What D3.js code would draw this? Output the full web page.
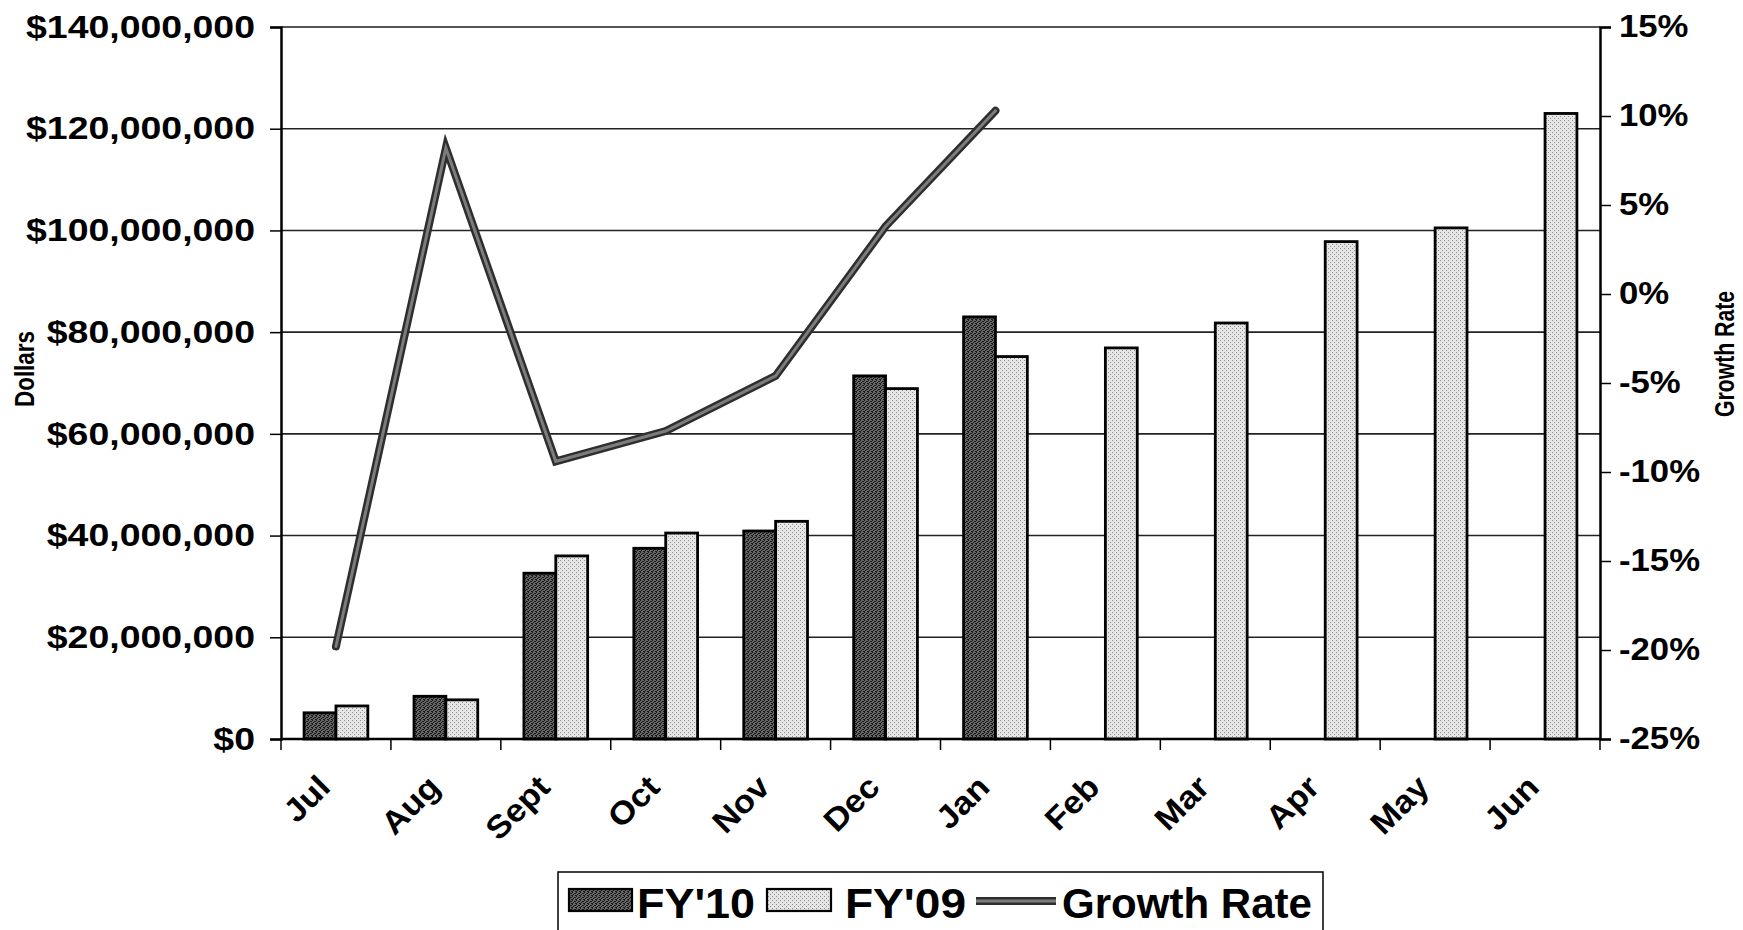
<!DOCTYPE html>
<html>
<head>
<meta charset="utf-8">
<script src="https://cdn.jsdelivr.net/npm/d3@7"></script>
<style>
  html, body { margin: 0; padding: 0; background: #fff; }
  svg { display: block; }
  text { font-family: "Liberation Sans", Arial, sans-serif; font-weight: bold; fill: #000; }
</style>
</head>
<body>
<svg id="chart" width="1743" height="930"></svg>
<script>
// ---- data ----
const months = ["Jul","Aug","Sept","Oct","Nov","Dec","Jan","Feb","Mar","Apr","May","Jun"];
const fy10 = [5.15e6, 8.4e6, 32.6e6, 37.5e6, 40.9e6, 71.4e6, 83.0e6, null, null, null, null, null];
const fy09 = [6.5e6, 7.7e6, 36.0e6, 40.5e6, 42.8e6, 68.9e6, 75.2e6, 76.9e6, 81.8e6, 97.8e6, 100.5e6, 123.0e6];
const growth = [-0.198, 0.082, -0.094, -0.077, -0.046, 0.038, 0.103, null, null, null, null, null];
const seriesNames = ["FY'10", "FY'09"];
const leftTicks = [0, 20e6, 40e6, 60e6, 80e6, 100e6, 120e6, 140e6];
const rightTicks = [-0.25, -0.20, -0.15, -0.10, -0.05, 0, 0.05, 0.10, 0.15];
const leftTitle = "Dollars";
const rightTitle = "Growth Rate";
const lineName = "Growth Rate";

// ---- layout ----
const L = 281, R = 1600, T = 27, B = 739;
const svg = d3.select("#chart");

function stretch(sel, f) {
  sel.each(function () {
    const w = this.getComputedTextLength();
    d3.select(this).attr("textLength", w * f).attr("lengthAdjust", "spacingAndGlyphs");
  });
}
function fitTo(sel, w) {
  sel.attr("textLength", w).attr("lengthAdjust", "spacingAndGlyphs");
}

// stipple patterns
const defs = svg.append("defs");
function stipple(id, base, dot, dots) {
  const p = defs.append("pattern").attr("id", id).attr("patternUnits", "userSpaceOnUse")
    .attr("width", 4).attr("height", 4);
  p.append("rect").attr("width", 4).attr("height", 4).attr("fill", base);
  dots.forEach(([x, y]) => p.append("rect").attr("x", x).attr("y", y).attr("width", 1).attr("height", 1).attr("fill", dot));
}
stipple("pDark", "#666", "#1a1a1a", [[0,0],[2,1],[1,2],[3,3],[0,3],[3,1]]);
stipple("pLight", "#e6e6e6", "#8c8c8c", [[0,0],[2,2]]);
const fills = { "FY'10": "url(#pDark)", "FY'09": "url(#pLight)" };

const x0 = d3.scaleBand().domain(months).range([L, R]).paddingInner(0.42).paddingOuter(0.21);
const x1 = d3.scaleBand().domain(seriesNames).range([0, x0.bandwidth()]);
const yL = d3.scaleLinear().domain([0, 140e6]).range([B, T]);
const yR = d3.scaleLinear().domain([-0.25, 0.15]).range([B, T]);
const step = x0.step();

// gridlines
svg.append("g").selectAll("line").data(leftTicks.filter(d => d > 0)).join("line")
  .attr("x1", L).attr("x2", R)
  .attr("y1", d => yL(d)).attr("y2", d => yL(d))
  .attr("stroke", d => d === 140e6 ? "#555" : "#222")
  .attr("stroke-width", d => d === 140e6 ? 2 : 1.6);

// bars
const rows = months.map((m, i) => ({ m, vals: [
  { s: "FY'10", v: fy10[i] }, { s: "FY'09", v: fy09[i] } ] }));
const gBars = svg.append("g");
rows.forEach(r => {
  r.vals.filter(d => d.v != null).forEach(d => {
    gBars.append("rect")
      .attr("x", x0(r.m) + x1(d.s))
      .attr("y", yL(d.v))
      .attr("width", x1.bandwidth())
      .attr("height", B - yL(d.v))
      .attr("fill", fills[d.s])
      .attr("stroke", "#000")
      .attr("stroke-width", 2.8);
  });
});

// growth line
const pts = months.map((m, i) => ({ m, g: growth[i] })).filter(d => d.g != null);
const line = d3.line().x(d => x0(d.m) + x0.bandwidth() / 2).y(d => yR(d.g));
svg.append("path").datum(pts).attr("d", line)
  .attr("fill", "none").attr("stroke", "#2e2e2e").attr("stroke-width", 8)
  .attr("stroke-linejoin", "miter").attr("stroke-linecap", "round");
svg.append("path").datum(pts).attr("d", line)
  .attr("fill", "none").attr("stroke", "#7c7c7c").attr("stroke-width", 3)
  .attr("stroke-linejoin", "miter").attr("stroke-linecap", "round");

// left axis
const axL = svg.append("g").attr("transform", `translate(${L},0)`)
  .call(d3.axisLeft(yL).tickValues(leftTicks)
    .tickFormat(d => "$" + d3.format(",")(d)).tickSize(11).tickPadding(15));
axL.select(".domain").attr("stroke", "#000").attr("stroke-width", 2.5);
axL.selectAll(".tick line").attr("stroke", "#000").attr("stroke-width", 1.5);
axL.selectAll("text").style("font-size", "32px").style("font-family", "'Liberation Sans', Arial, sans-serif").style("font-weight", "bold");
stretch(axL.selectAll("text"), 1.17);

// right axis
const axR = svg.append("g").attr("transform", `translate(${R},0)`)
  .call(d3.axisRight(yR).tickValues(rightTicks)
    .tickFormat(d => Math.round(d * 100) + "%").tickSize(11).tickPadding(8));
axR.select(".domain").attr("stroke", "#000").attr("stroke-width", 2.5);
axR.selectAll(".tick line").attr("stroke", "#000").attr("stroke-width", 1.5);
axR.selectAll("text").style("font-size", "31px").style("font-family", "'Liberation Sans', Arial, sans-serif").style("font-weight", "bold");
stretch(axR.selectAll("text"), 1.12);

// x axis line + category boundary ticks
svg.append("line").attr("x1", L).attr("x2", R).attr("y1", B).attr("y2", B)
  .attr("stroke", "#000").attr("stroke-width", 2.5);
svg.append("g").selectAll("line").data(d3.range(months.length + 1)).join("line")
  .attr("x1", i => L + i * step).attr("x2", i => L + i * step)
  .attr("y1", B).attr("y2", B + 11)
  .attr("stroke", "#000").attr("stroke-width", 1.5);

// x labels
const xl = svg.append("g").selectAll("text").data(months).join("text")
  .attr("transform", m => `translate(${x0(m) + x0.bandwidth() / 2 - 4},${B + 50}) rotate(-45)`)
  .attr("text-anchor", "end")
  .style("font-size", "32px")
  .text(m => m);
stretch(xl, 1.08);

// axis titles
svg.append("text").attr("transform", `translate(34,369) rotate(-90)`)
  .attr("text-anchor", "middle").style("font-size", "28px").text(leftTitle)
  .attr("textLength", 76).attr("lengthAdjust", "spacingAndGlyphs");
svg.append("text").attr("transform", `translate(1734,354) rotate(-90)`)
  .attr("text-anchor", "middle").style("font-size", "27px").text(rightTitle)
  .attr("textLength", 126).attr("lengthAdjust", "spacingAndGlyphs");

// legend
const lg = svg.append("g");
lg.append("rect").attr("x", 558).attr("y", 872).attr("width", 765).attr("height", 80)
  .attr("fill", "#fff").attr("stroke", "#000").attr("stroke-width", 1.5);
const baseY = 918, fs = 42;
const legendItems = [
  { kind: "rect", key: "FY'10", label: seriesNames[0], x: 569, w: 63, tx: 637, textW: 118 },
  { kind: "rect", key: "FY'09", label: seriesNames[1], x: 767, w: 64, tx: 845, textW: 121 },
  { kind: "line", key: "line", label: lineName, x: 976, w: 80, tx: 1062, textW: 250 }
];
legendItems.forEach(it => {
  if (it.kind === "rect") {
    lg.append("rect").attr("x", it.x).attr("y", 889).attr("width", it.w).attr("height", 22)
      .attr("fill", fills[it.key]).attr("stroke", "#000").attr("stroke-width", 2.2);
  } else {
    lg.append("line").attr("x1", it.x).attr("x2", it.x + it.w).attr("y1", 901).attr("y2", 901)
      .attr("stroke", "#2e2e2e").attr("stroke-width", 8);
    lg.append("line").attr("x1", it.x).attr("x2", it.x + it.w).attr("y1", 901).attr("y2", 901)
      .attr("stroke", "#7c7c7c").attr("stroke-width", 3);
  }
  const t = lg.append("text").attr("x", it.tx).attr("y", baseY).style("font-size", fs + "px").text(it.label);
  fitTo(t, it.textW);
});
</script>
</body>
</html>
